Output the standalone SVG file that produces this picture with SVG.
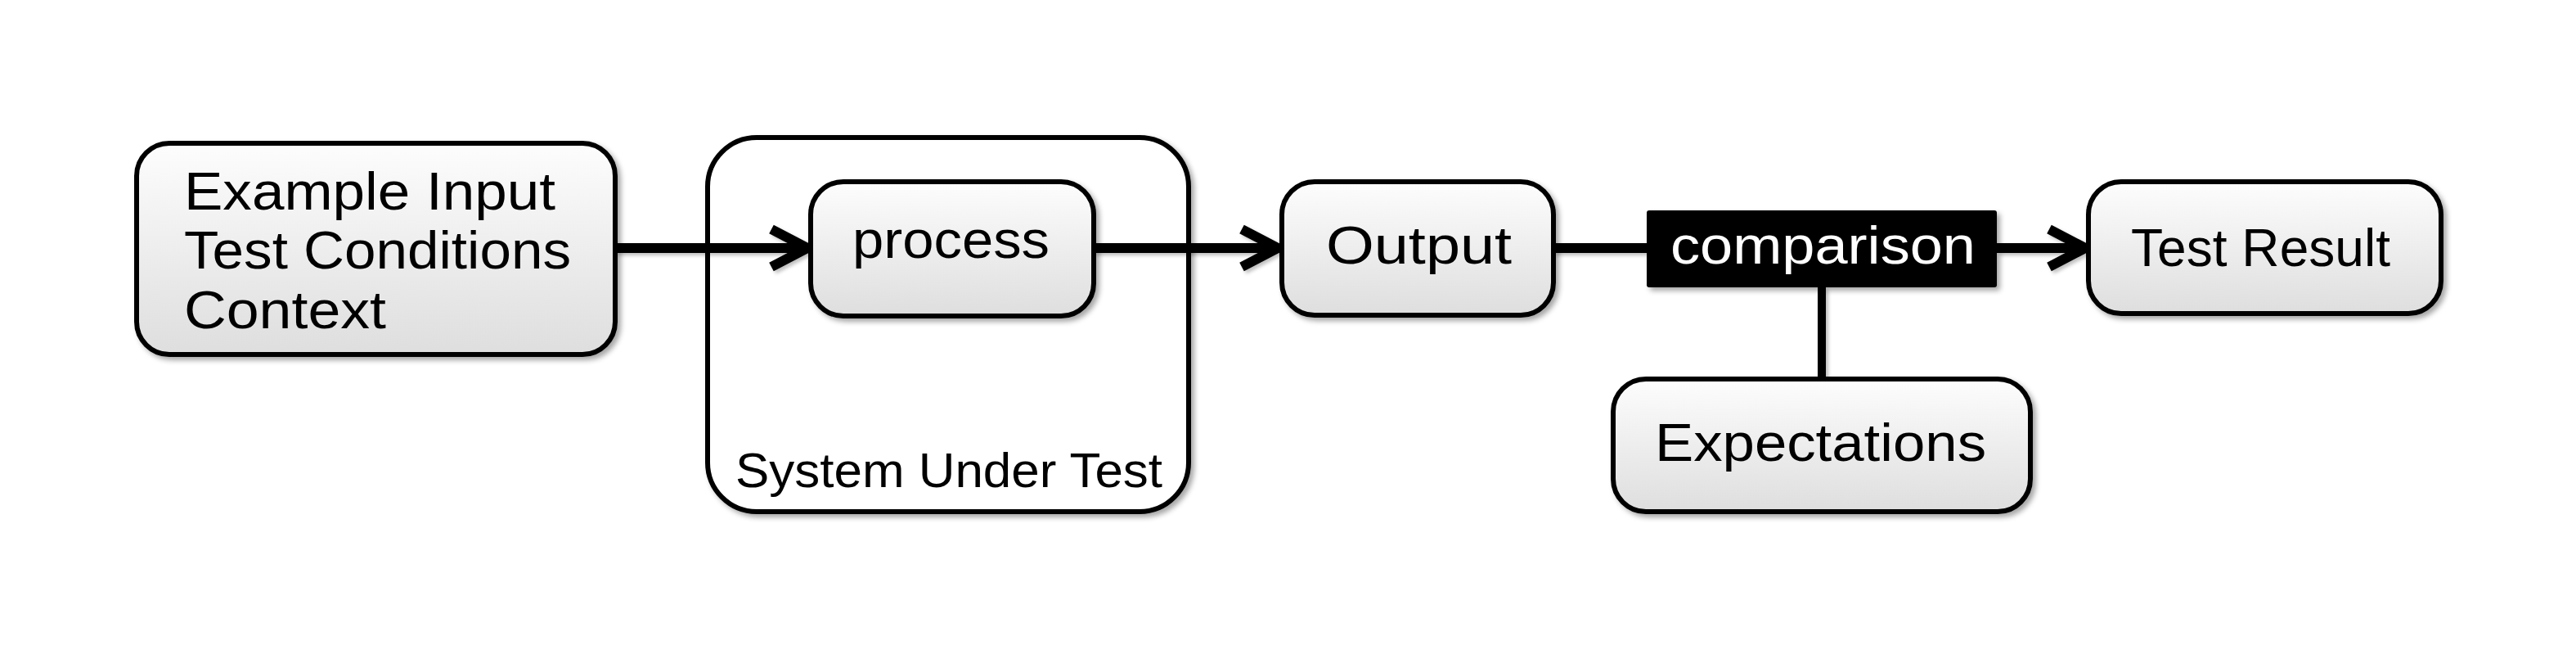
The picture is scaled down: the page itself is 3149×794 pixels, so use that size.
<svg xmlns="http://www.w3.org/2000/svg" width="3149" height="794" viewBox="0 0 3149 794">
<style>
  .box { fill: url(#grad); stroke: #000; stroke-width: 6; filter: url(#shadow); }
  .sut { fill: #fff; stroke: #000; stroke-width: 6; filter: url(#shadow); }
  .dark { fill: #000; filter: url(#shadow); }
  .lbl { font-family: "Liberation Sans", Arial, sans-serif; font-size: 64px; fill: #000; }
  .wlbl { font-family: "Liberation Sans", Arial, sans-serif; font-size: 64px; fill: #fff; }
  .conn { fill: none; stroke: #000; stroke-width: 12; }
</style>
<defs>
  <linearGradient id="grad" x1="0" y1="0" x2="0" y2="1">
    <stop offset="0" stop-color="#fdfdfd"/>
    <stop offset="1" stop-color="#dedede"/>
  </linearGradient>
  <filter id="shadow" x="-10%" y="-10%" width="130%" height="130%">
    <feDropShadow dx="4" dy="4" stdDeviation="3" flood-color="#000" flood-opacity="0.35"/>
  </filter>
  <filter id="lshadow" x="-5%" y="-20%" width="110%" height="140%">
    <feDropShadow dx="3" dy="3" stdDeviation="2" flood-color="#000" flood-opacity="0.25"/>
  </filter>
  <marker id="chev" markerUnits="userSpaceOnUse" viewBox="-70 -40 90 80" markerWidth="90" markerHeight="80" refX="0" refY="0" orient="auto" overflow="visible">
    <path d="M -44 -23 L 0 0 L -44 23" fill="none" stroke="#000" stroke-width="12" stroke-linejoin="miter" stroke-miterlimit="4"/>
  </marker>
</defs>
<rect width="3149" height="794" fill="#fff"/>

<g id="sut">
  <rect class="sut" x="865" y="168" width="588" height="457" rx="60" ry="60"/>
  <text class="lbl" x="899" y="595" style="font-size:60px" textLength="522" lengthAdjust="spacingAndGlyphs">System Under Test</text>
</g>

<g id="connectors" filter="url(#lshadow)">
  <path class="conn" d="M 752 303 L 987 303" marker-end="url(#chev)"/>
  <path class="conn" d="M 1337 303 L 1562 303" marker-end="url(#chev)"/>
  <path class="conn" d="M 1899 303 L 2013 303"/>
  <path class="conn" d="M 2441 303 L 2549 303" marker-end="url(#chev)"/>
  <path class="conn" style="stroke-width:10" d="M 2227 351 L 2227 463"/>
</g>

<g id="input">
  <rect class="box" x="167" y="175" width="585" height="258" rx="40" ry="40"/>
  <text class="lbl" x="225" y="256" textLength="454" lengthAdjust="spacingAndGlyphs">Example Input</text>
  <text class="lbl" x="225" y="328" textLength="473" lengthAdjust="spacingAndGlyphs">Test Conditions</text>
  <text class="lbl" x="225" y="401" textLength="247" lengthAdjust="spacingAndGlyphs">Context</text>
</g>

<g id="process">
  <rect class="box" x="991" y="222" width="346" height="164" rx="40" ry="40"/>
  <text class="lbl" x="1042" y="315" textLength="241" lengthAdjust="spacingAndGlyphs">process</text>
</g>

<g id="output">
  <rect class="box" x="1567" y="222" width="332" height="163" rx="40" ry="40"/>
  <text class="lbl" x="1621" y="322" textLength="227" lengthAdjust="spacingAndGlyphs">Output</text>
</g>

<g id="comparison">
  <rect class="dark" x="2013" y="257" width="428" height="94" rx="3" ry="3"/>
  <text class="wlbl" x="2042" y="322" textLength="373" lengthAdjust="spacingAndGlyphs">comparison</text>
</g>

<g id="expectations">
  <rect class="box" x="1972" y="463" width="510" height="162" rx="40" ry="40"/>
  <text class="lbl" x="2023" y="563" textLength="405" lengthAdjust="spacingAndGlyphs">Expectations</text>
</g>

<g id="result">
  <rect class="box" x="2553" y="222" width="431" height="161" rx="40" ry="40"/>
  <text class="lbl" x="2605" y="325" textLength="317" lengthAdjust="spacingAndGlyphs">Test Result</text>
</g>
</svg>
